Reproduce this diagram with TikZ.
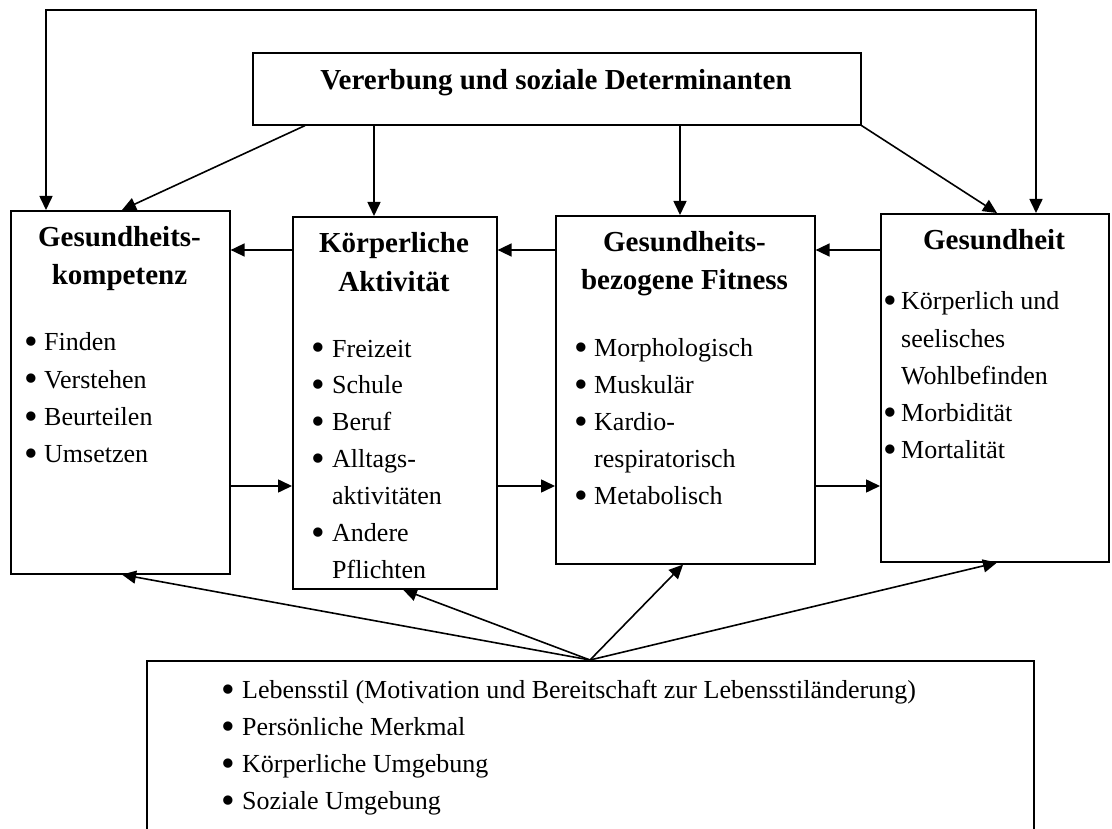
\documentclass[tikz,border=0pt]{standalone}
\usepackage{fontspec}
\setmainfont{Liberation Serif}
\usetikzlibrary{arrows.meta}
\newcommand\bigdot{\raisebox{-4pt}{\scalebox{1.5}{\textbullet}}}
\begin{document}
\begin{tikzpicture}[x=1pt,y=-1pt,
  boxstyle/.style={draw, line width=1.6pt, inner sep=0pt, anchor=north west},
  hdr/.style={font=\fontsize{29}{35}\selectfont\bfseries, anchor=base, inner sep=0pt},
  txt/.style={font=\fontsize{26}{31}\selectfont, anchor=base west, inner sep=0pt},
  dot/.style={font=\fontsize{26}{31}\selectfont, anchor=base, inner sep=0pt},
  tip/.tip={Triangle[length=14pt,width=13pt]},
  arr/.style={line width=1.6pt, -tip},
  arrboth/.style={line width=1.6pt, tip-tip},
]
\useasboundingbox (0,0) rectangle (1112,829);

% boxes
\node[boxstyle, minimum width=608pt, minimum height=72pt] (b0) at (252,52) {};
\node[boxstyle, minimum width=219pt, minimum height=363pt] (b1) at (10,210) {};
\node[boxstyle, minimum width=204pt, minimum height=372pt] (b2) at (292,216) {};
\node[boxstyle, minimum width=259pt, minimum height=348pt] (b3) at (555,215) {};
\node[boxstyle, minimum width=228pt, minimum height=348pt] (b4) at (880,213) {};
\node[boxstyle, minimum width=887pt, minimum height=200pt] (b5) at (146,660) {};

% top box title
\node[hdr] (t0) at (556,90) {Vererbung und soziale Determinanten};

% Gesundheitskompetenz
\node[hdr] (h1a) at (119.5,247) {Gesundheits-};
\node[hdr] (h1b) at (119.5,285) {kompetenz};
\node[dot] (d1a) at (31,351) {\bigdot}; \node[txt] (e1a) at (44,351) {Finden};
\node[dot] (d1b) at (31,388) {\bigdot}; \node[txt] (e1b) at (44,388) {Verstehen};
\node[dot] (d1c) at (31,425) {\bigdot}; \node[txt] (e1c) at (44,425) {Beurteilen};
\node[dot] (d1d) at (31,462) {\bigdot}; \node[txt] (e1d) at (44,462) {Umsetzen};

% Körperliche Aktivität
\node[hdr] (h2a) at (394,253) {Körperliche};
\node[hdr] (h2b) at (394,292) {Aktivität};
\node[dot] (d2a) at (318,357) {\bigdot}; \node[txt] (e2a) at (332,357) {Freizeit};
\node[dot] (d2b) at (318,393) {\bigdot}; \node[txt] (e2b) at (332,393) {Schule};
\node[dot] (d2c) at (318,430) {\bigdot}; \node[txt] (e2c) at (332,430) {Beruf};
\node[dot] (d2d) at (318,467) {\bigdot}; \node[txt] (e2d) at (332,467) {Alltags-};
\node[txt] (e2e) at (332,504) {aktivitäten};
\node[dot] (d2f) at (318,541) {\bigdot}; \node[txt] (e2f) at (332,541) {Andere};
\node[txt] (e2g) at (332,578) {Pflichten};

% Gesundheitsbezogene Fitness
\node[hdr] (h3a) at (684.5,252) {Gesundheits-};
\node[hdr] (h3b) at (684.5,290) {bezogene Fitness};
\node[dot] (d3a) at (581,356) {\bigdot}; \node[txt] (e3a) at (594,356) {Morphologisch};
\node[dot] (d3b) at (581,393) {\bigdot}; \node[txt] (e3b) at (594,393) {Muskulär};
\node[dot] (d3c) at (581,430) {\bigdot}; \node[txt] (e3c) at (594,430) {Kardio-};
\node[txt] (e3d) at (594,467) {respiratorisch};
\node[dot] (d3e) at (581,504) {\bigdot}; \node[txt] (e3e) at (594,504) {Metabolisch};

% Gesundheit
\node[hdr] (h4a) at (994,250) {Gesundheit};
\node[dot] (d4a) at (890,310) {\bigdot}; \node[txt] (e4a) at (901,310) {Körperlich und};
\node[txt] (e4b) at (901,347) {seelisches};
\node[txt] (e4c) at (901,384) {Wohlbefinden};
\node[dot] (d4d) at (890,421) {\bigdot}; \node[txt] (e4d) at (901,421) {Morbidität};
\node[dot] (d4e) at (890,458) {\bigdot}; \node[txt] (e4e) at (901,458) {Mortalität};

% influencing factors
\node[dot] (d5a) at (228,698) {\bigdot}; \node[txt] (e5a) at (242,698) {Lebensstil (Motivation und Bereitschaft zur Lebensstiländerung)};
\node[dot] (d5b) at (228,735) {\bigdot}; \node[txt] (e5b) at (242,735) {Persönliche Merkmal};
\node[dot] (d5c) at (228,772) {\bigdot}; \node[txt] (e5c) at (242,772) {Körperliche Umgebung};
\node[dot] (d5d) at (228,809) {\bigdot}; \node[txt] (e5d) at (242,809) {Soziale Umgebung};

% helper positions
\coordinate (topL) at (46,10);
\coordinate (topR) at (1036,10);
\coordinate (xa) at (305,0);
\coordinate (xb) at (122,0);
\coordinate (xc) at (374,0);
\coordinate (xd) at (680,0);
\coordinate (xe) at (997,0);
\coordinate (xf) at (403,0);
\coordinate (xg) at (683,0);
\coordinate (xh) at (590,0);
\coordinate (yu) at (0,250);
\coordinate (yl) at (0,486);
\coordinate (apex) at (b5.north -| xh);

% outer feedback loop
\draw[arrboth, line join=miter] (b1.north -| topL) -- (topL) -- (topR) -- (b4.north -| topR);

% from heredity box
\draw[arr] (b0.south -| xa) -- (b1.north -| xb);
\draw[arr] (b0.south -| xc) -- (b2.north -| xc);
\draw[arr] (b0.south -| xd) -- (b3.north -| xd);
\draw[arr] (b0.south east) -- (b4.north -| xe);

% horizontal chains
\draw[arr] (b2.west |- yu) -- (b1.east |- yu);
\draw[arr] (b3.west |- yu) -- (b2.east |- yu);
\draw[arr] (b4.west |- yu) -- (b3.east |- yu);
\draw[arr] (b1.east |- yl) -- (b2.west |- yl);
\draw[arr] (b2.east |- yl) -- (b3.west |- yl);
\draw[arr] (b3.east |- yl) -- (b4.west |- yl);

% from influencing factors
\draw[arr] (apex) -- (b1.south -| xb);
\draw[arr] (apex) -- (b2.south -| xf);
\draw[arr] (apex) -- (b3.south -| xg);
\draw[arr] (apex) -- (b4.south -| xe);
\end{tikzpicture}
\end{document}
